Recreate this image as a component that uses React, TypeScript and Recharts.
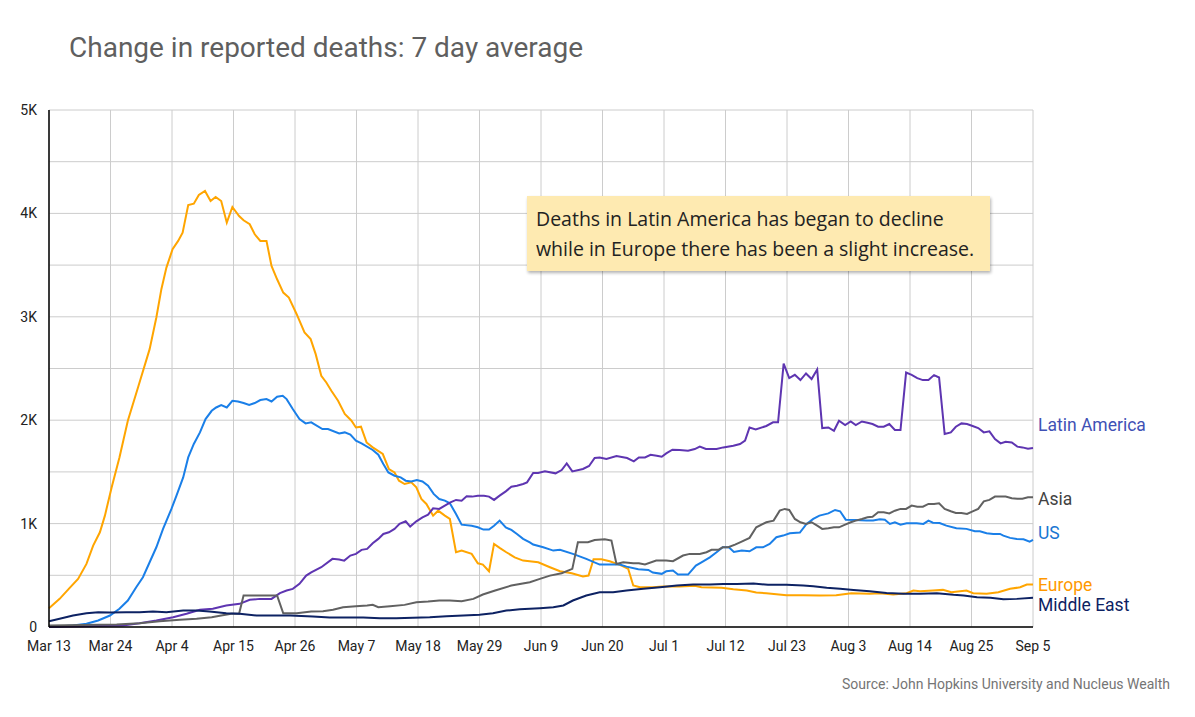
import React from 'react';
import { LineChart, Line, XAxis, YAxis, CartesianGrid } from 'recharts';

// days since Mar 13, one tick every 11 days
const tickDays = [0, 11, 22, 33, 44, 55, 66, 77, 88, 99, 110, 121, 132, 143, 154, 165, 176];
const tickLabels = [
  'Mar 13', 'Mar 24', 'Apr 4', 'Apr 15', 'Apr 26', 'May 7', 'May 18', 'May 29', 'Jun 9',
  'Jun 20', 'Jul 1', 'Jul 12', 'Jul 23', 'Aug 3', 'Aug 14', 'Aug 25', 'Sep 5',
];
const yTicks = [0, 500, 1000, 1500, 2000, 2500, 3000, 3500, 4000, 4500, 5000];

// [day, deaths (7 day avg)]
const europe = [
  [0, 182], [1.9, 272], [3.7, 379], [5.2, 465], [6.7, 610], [7.9, 787], [9.1, 916], [10, 1077],
  [11.2, 1350], [12.6, 1640], [14.1, 1995], [16, 2330], [18, 2687], [19.2, 2993], [20.1, 3267],
  [21, 3476], [22.1, 3653], [23.1, 3734], [23.9, 3814], [24.9, 4081], [25.9, 4094], [26.8, 4178],
  [27.9, 4217], [28.9, 4120], [29.8, 4159], [30.8, 4120], [31.8, 3910], [32.8, 4062], [34, 3975],
  [34.8, 3933], [35.9, 3895], [36.8, 3798], [37.8, 3734], [38.9, 3734], [39.8, 3492], [40.8, 3363],
  [41.9, 3234], [42.9, 3186], [44.3, 3025], [45.7, 2848], [46.8, 2784], [47.7, 2639], [48.7, 2430],
  [49.6, 2365], [50.5, 2285], [51.7, 2188], [52.9, 2060], [54.1, 1995], [54.9, 1930], [55.8, 1937],
  [56.8, 1785], [57.9, 1737], [59.7, 1673], [60.8, 1528], [61.8, 1495], [62.6, 1415], [63.6, 1383],
  [64.8, 1399], [65.7, 1350], [66.6, 1238], [67.5, 1190], [68.7, 1077], [69.6, 1125], [70.8, 1077],
  [71.7, 1045], [72.8, 723], [73.8, 739], [75.6, 707], [76.7, 616], [77.6, 604], [78.7, 539],
  [79.6, 804], [80.6, 765], [81.8, 723], [83.3, 674], [84.8, 642], [87.5, 626], [89.6, 578],
  [91.4, 539], [93.5, 520], [95.5, 488], [96.5, 497], [97.4, 655], [98.8, 655], [100.3, 636],
  [102.4, 594], [103.6, 562], [104.5, 401], [105.7, 384], [108, 384], [109.8, 391], [112.8, 391],
  [115.5, 398], [116.7, 384], [120.3, 379], [122.4, 365], [124.8, 353], [126.5, 333], [128.3, 327],
  [131.9, 307], [134.9, 307], [137.8, 304], [140.8, 307], [143.5, 327], [146.8, 321], [148.6, 327],
  [151, 314], [153.4, 327], [154.6, 353], [155.8, 346], [158.1, 353], [159.9, 359], [161.4, 336],
  [164.1, 353], [165.3, 327], [167.7, 321], [169.8, 336], [171.9, 369], [173.7, 384], [174.9, 411],
  [176, 411],
];

const us = [
  [0, 0], [4.3, 15], [6.7, 31], [8.8, 63], [10.9, 111], [12.6, 176], [14.1, 256], [15.6, 384],
  [16.8, 481], [18, 626], [19.2, 771], [20.4, 949], [21.9, 1142], [22.8, 1270], [24, 1447],
  [24.9, 1640], [25.9, 1770], [27, 1882], [28, 2011], [29.1, 2091], [29.9, 2123], [30.8, 2147],
  [31.8, 2123], [32.8, 2188], [33.8, 2181], [34.8, 2166], [35.8, 2147], [36.8, 2166], [37.8, 2195],
  [38.9, 2204], [39.8, 2181], [40.8, 2227], [41.8, 2236], [42.5, 2204], [43.6, 2108], [44.8, 2011],
  [45.9, 1969], [46.9, 1979], [48.9, 1915], [49.9, 1915], [51.9, 1872], [52.9, 1882], [53.9, 1860],
  [54.9, 1802], [55.9, 1776], [57.9, 1712], [58.9, 1666], [59.8, 1577], [60.7, 1495], [61.8, 1463],
  [62.9, 1447], [63.8, 1415], [64.8, 1408], [65.8, 1422], [66.8, 1408], [67.8, 1367], [68.8, 1287],
  [69.8, 1238], [70.8, 1222], [71.7, 1196], [72.8, 1093], [73.8, 990], [75.6, 980], [76.7, 964],
  [77.7, 942], [78.7, 942], [79.6, 980], [80.6, 1029], [81.7, 964], [82.7, 939], [83.7, 900],
  [84.8, 852], [86, 819], [86.6, 797], [88.4, 771], [90.2, 739], [91.4, 746], [93.7, 707],
  [96.1, 659], [98.5, 604], [102.1, 604], [103.3, 584], [105.4, 558], [107.2, 552], [108, 526],
  [109.6, 514], [110.4, 539], [111.6, 546], [112.5, 507], [114.3, 507], [115.7, 594], [116.7, 626],
  [118.2, 674], [119.4, 723], [120.5, 771], [121.6, 771], [122.5, 726], [123.9, 739], [125.3, 732],
  [126.5, 771], [127.7, 771], [128.9, 804], [130.1, 868], [131.3, 884], [132.5, 906], [134.3, 913],
  [135.5, 997], [136.7, 1045], [137.8, 1077], [139.4, 1099], [140.6, 1132], [141.5, 1119],
  [142.5, 1038], [144.2, 1035], [146.2, 1029], [147.4, 1029], [148.6, 1042], [149.5, 1038],
  [150.4, 997], [151.3, 1013], [152.3, 990], [153.4, 1003], [155.2, 1003], [156.4, 997],
  [157.3, 1029], [158.1, 1009], [159.3, 1006], [160.5, 980], [162.3, 955], [164.1, 949],
  [165.6, 926], [166.5, 926], [167.7, 906], [168.9, 900], [170.1, 900], [170.7, 884], [171.9, 862],
  [173.1, 852], [174.3, 848], [175.4, 826], [176, 842],
];

const latinAmerica = [
  [0, 0], [13.2, 15], [16.2, 37], [19.2, 63], [22.2, 95], [24.6, 128], [27, 166], [29.3, 176],
  [31.7, 208], [34.1, 224], [35.9, 263], [37.7, 272], [39.8, 272], [41.3, 327], [42.5, 353],
  [43.6, 369], [44.8, 417], [46, 497], [46.9, 529], [48.7, 578], [50.7, 659], [51.9, 652],
  [52.8, 642], [53.9, 691], [54.9, 707], [55.9, 746], [56.9, 755], [57.9, 810], [58.9, 852],
  [59.8, 900], [60.8, 916], [61.8, 949], [62.7, 997], [63.8, 1022], [64.6, 971], [65.7, 1022],
  [66.8, 1061], [67.8, 1087], [68.7, 1148], [69.8, 1142], [70.8, 1174], [71.8, 1206], [72.8, 1229],
  [73.8, 1222], [74.7, 1264], [75.7, 1261], [76.7, 1270], [77.8, 1270], [78.7, 1261], [79.6, 1229],
  [80.6, 1270], [81.7, 1312], [82.7, 1357], [83.7, 1367], [84.8, 1383], [85.5, 1399], [86.6, 1490],
  [87.5, 1490], [88.7, 1505], [90.6, 1486], [91.7, 1518], [92.6, 1582], [93.6, 1505], [95.5, 1528],
  [96.6, 1557], [97.6, 1634], [98.5, 1640], [99.7, 1624], [101.5, 1653], [103.4, 1634],
  [104.6, 1602], [105.5, 1640], [106.6, 1640], [107.6, 1666], [108.7, 1657], [109.6, 1647],
  [110.4, 1679], [111.5, 1715], [112.8, 1712], [114.3, 1705], [115.5, 1721], [116.4, 1744],
  [117.5, 1721], [119.4, 1721], [120.6, 1737], [122.4, 1753], [123.6, 1770], [124.5, 1802],
  [125.3, 1930], [126.4, 1911], [128.3, 1944], [129.5, 1979], [130.4, 1979], [131.4, 2548],
  [132.4, 2407], [133.4, 2439], [134.4, 2388], [135.4, 2452], [136.4, 2398], [137.4, 2490],
  [138.3, 1924], [139.4, 1930], [140.4, 1898], [141.3, 1995], [142.4, 1953], [143.4, 1988],
  [144.3, 1953], [145.4, 1988], [146.4, 1976], [147.3, 1963], [148.3, 1937], [149.3, 1937],
  [150.3, 1963], [151.3, 1905], [152.3, 1905], [153.3, 2461], [154.3, 2439], [155.3, 2407],
  [156.3, 2388], [157.3, 2388], [158.3, 2436], [159.2, 2413], [160.2, 1866], [161.3, 1882],
  [162.2, 1937], [163.2, 1969], [164.2, 1963], [165.2, 1944], [166.2, 1924], [167.2, 1882],
  [168.2, 1892], [169.2, 1818], [170.2, 1776], [171.1, 1792], [172.2, 1785], [173.2, 1744],
  [174.1, 1737], [175.1, 1724], [176, 1731],
];

const asia = [
  [0, 15], [12.1, 24], [16.2, 37], [19.8, 56], [23.4, 69], [26.4, 79], [29.1, 95], [30.8, 111],
  [32.6, 128], [34, 128], [34.8, 304], [40.8, 304], [41.9, 133], [44.3, 133], [46.9, 150],
  [49, 153], [50.8, 166], [52.6, 191], [54.9, 201], [56.9, 208], [57.9, 214], [58.9, 191],
  [61, 201], [63.6, 214], [65.7, 240], [67.8, 246], [69.8, 256], [71.7, 256], [73.8, 249],
  [75.9, 272], [77.6, 314], [79.8, 353], [82.7, 401], [86, 433], [87.8, 465], [89.6, 497],
  [91.7, 520], [93.6, 562], [94.6, 819], [96.4, 819], [97.6, 842], [99.4, 848], [100.6, 836],
  [101.5, 610], [102.7, 626], [104.5, 616], [105.5, 616], [106.6, 604], [108.6, 642], [110.4, 642],
  [111.6, 636], [113.4, 691], [114.6, 707], [116.4, 707], [117.6, 723], [118.5, 746], [119.7, 746],
  [120.5, 771], [121.5, 771], [122.7, 797], [123.6, 819], [125.3, 862], [126.5, 964], [128.3, 1013],
  [129.6, 1029], [130.7, 1125], [131.6, 1142], [132.4, 1132], [133.4, 1045], [134.4, 1013],
  [135.4, 997], [136.4, 1013], [137.4, 980], [138.3, 949], [139.4, 955], [140.4, 964], [141.3, 964],
  [142.4, 990], [143.4, 1013], [144.3, 1029], [145.4, 1045], [146.4, 1061], [147.3, 1067],
  [148.3, 1109], [149.3, 1109], [150.3, 1099], [151.3, 1125], [152.3, 1142], [153.3, 1142],
  [154.3, 1174], [155.3, 1164], [156.3, 1164], [157.3, 1190], [158.3, 1190], [159.2, 1196],
  [160.2, 1142], [161.3, 1119], [162.2, 1103], [163.2, 1103], [164.2, 1093], [165.2, 1119],
  [166.2, 1142], [167.2, 1215], [168.2, 1229], [169.2, 1261], [170.2, 1261], [171.1, 1261],
  [172.2, 1245], [173.2, 1241], [174.1, 1241], [175.1, 1254], [176, 1254],
];

const middleEast = [
  [0, 56], [1.9, 79], [4.3, 111], [6.7, 133], [8.8, 143], [10.9, 140], [13.8, 143], [16.2, 143],
  [18.6, 150], [21, 143], [24, 159], [26.4, 159], [28.7, 150], [31.7, 133], [34.1, 128],
  [37.1, 111], [43.1, 111], [47.2, 101], [50.2, 92], [56.2, 92], [59.2, 85], [62.1, 85], [65.1, 89],
  [68.1, 95], [71.1, 105], [74.1, 111], [77, 118], [79.4, 133], [81.8, 159], [84.2, 172],
  [87.8, 182], [90.2, 191], [92, 208], [93.7, 256], [96.1, 304], [98.5, 336], [100.9, 336],
  [103.3, 353], [106.3, 369], [109.3, 384], [112.3, 401], [115.2, 411], [118.2, 411], [120.6, 417],
  [123, 417], [126, 420], [128.6, 408], [131.9, 408], [134.9, 401], [136.7, 394], [139.1, 379],
  [141.5, 369], [143.9, 359], [146.8, 346], [149.8, 330], [152.8, 321], [155.8, 321], [158.8, 327],
  [161.8, 311], [163.6, 304], [166, 288], [168.4, 282], [170.7, 269], [173.1, 272], [176, 282],
];

const series = [
  { name: 'Europe', points: europe, color: '#ffa500', labelColor: '#ff9800', labelDy: 0 },
  { name: 'US', points: us, color: '#1a7fe8', labelColor: '#1976d2', labelDy: -7 },
  { name: 'Latin America', points: latinAmerica, color: '#5e35b1', labelColor: '#3f51b5', labelDy: -23 },
  { name: 'Asia', points: asia, color: '#616161', labelColor: '#424242', labelDy: 2 },
  { name: 'Middle East', points: middleEast, color: '#0d2263', labelColor: '#0d2263', labelDy: 7 },
];

const font = 'Roboto, sans-serif';

export default function App() {
  return (
    <div style={{ position: 'fixed', left: 0, top: 0, width: 1195, height: 717, background: '#fff', fontFamily: font }}>
      <div style={{ position: 'absolute', left: 69, top: 32, fontSize: 28, lineHeight: '32px', color: '#5f5f5f' }}>
        Change in reported deaths: 7 day average
      </div>
      <LineChart width={1195} height={717} margin={{ top: 110, right: 162, bottom: 60, left: 0 }}>
        <CartesianGrid stroke="#cccccc" />
        <XAxis
          type="number"
          dataKey="day"
          domain={[0, 176]}
          ticks={tickDays}
          tickFormatter={(d: number) => tickLabels[tickDays.indexOf(d)]}
          tickLine={false}
          tickMargin={8}
          height={30}
          axisLine={{ stroke: '#000', strokeWidth: 1.5 }}
          tick={{ fill: '#222', fontSize: 14, fontFamily: font }}
          interval={0}
        />
        <YAxis
          type="number"
          domain={[0, 5000]}
          ticks={yTicks}
          tickFormatter={(v: number) => (v === 0 ? '0' : v % 1000 === 0 ? `${v / 1000}K` : '')}
          tickLine={false}
          tickMargin={6}
          width={49}
          axisLine={{ stroke: '#000', strokeWidth: 1.5 }}
          tick={{ fill: '#222', fontSize: 14, fontFamily: font }}
          interval={0}
        />
        {series.map((s) => (
          <Line
            key={s.name}
            data={s.points.map(([day, deaths]) => ({ day, deaths }))}
            dataKey="deaths"
            type="linear"
            stroke={s.color}
            strokeWidth={2}
            dot={false}
            isAnimationActive={false}
            label={(p: any) =>
              p.index === s.points.length - 1 ? (
                <text
                  key={s.name}
                  x={p.x + 5}
                  y={p.y + s.labelDy}
                  fill={s.labelColor}
                  fontSize={17.5}
                  fontFamily={font}
                  dominantBaseline="central"
                >
                  {s.name}
                </text>
              ) : null
            }
          />
        ))}
      </LineChart>
      <div
        style={{
          position: 'absolute',
          left: 527,
          top: 196,
          width: 463,
          height: 75,
          boxSizing: 'border-box',
          padding: '8px 0 0 9px',
          background: '#feeab1',
          boxShadow: '1px 2px 3px rgba(0,0,0,0.3)',
          fontFamily: '"Open Sans", sans-serif',
          fontSize: 19.5,
          lineHeight: '30px',
          color: '#222',
          whiteSpace: 'nowrap',
        }}
      >
        Deaths in Latin America has began to decline
        <br />
        while in Europe there has been a slight increase.
      </div>
      <div style={{ position: 'absolute', right: 25, top: 676, fontSize: 14, lineHeight: '16px', color: '#757575' }}>
        Source: John Hopkins University and Nucleus Wealth
      </div>
    </div>
  );
}
